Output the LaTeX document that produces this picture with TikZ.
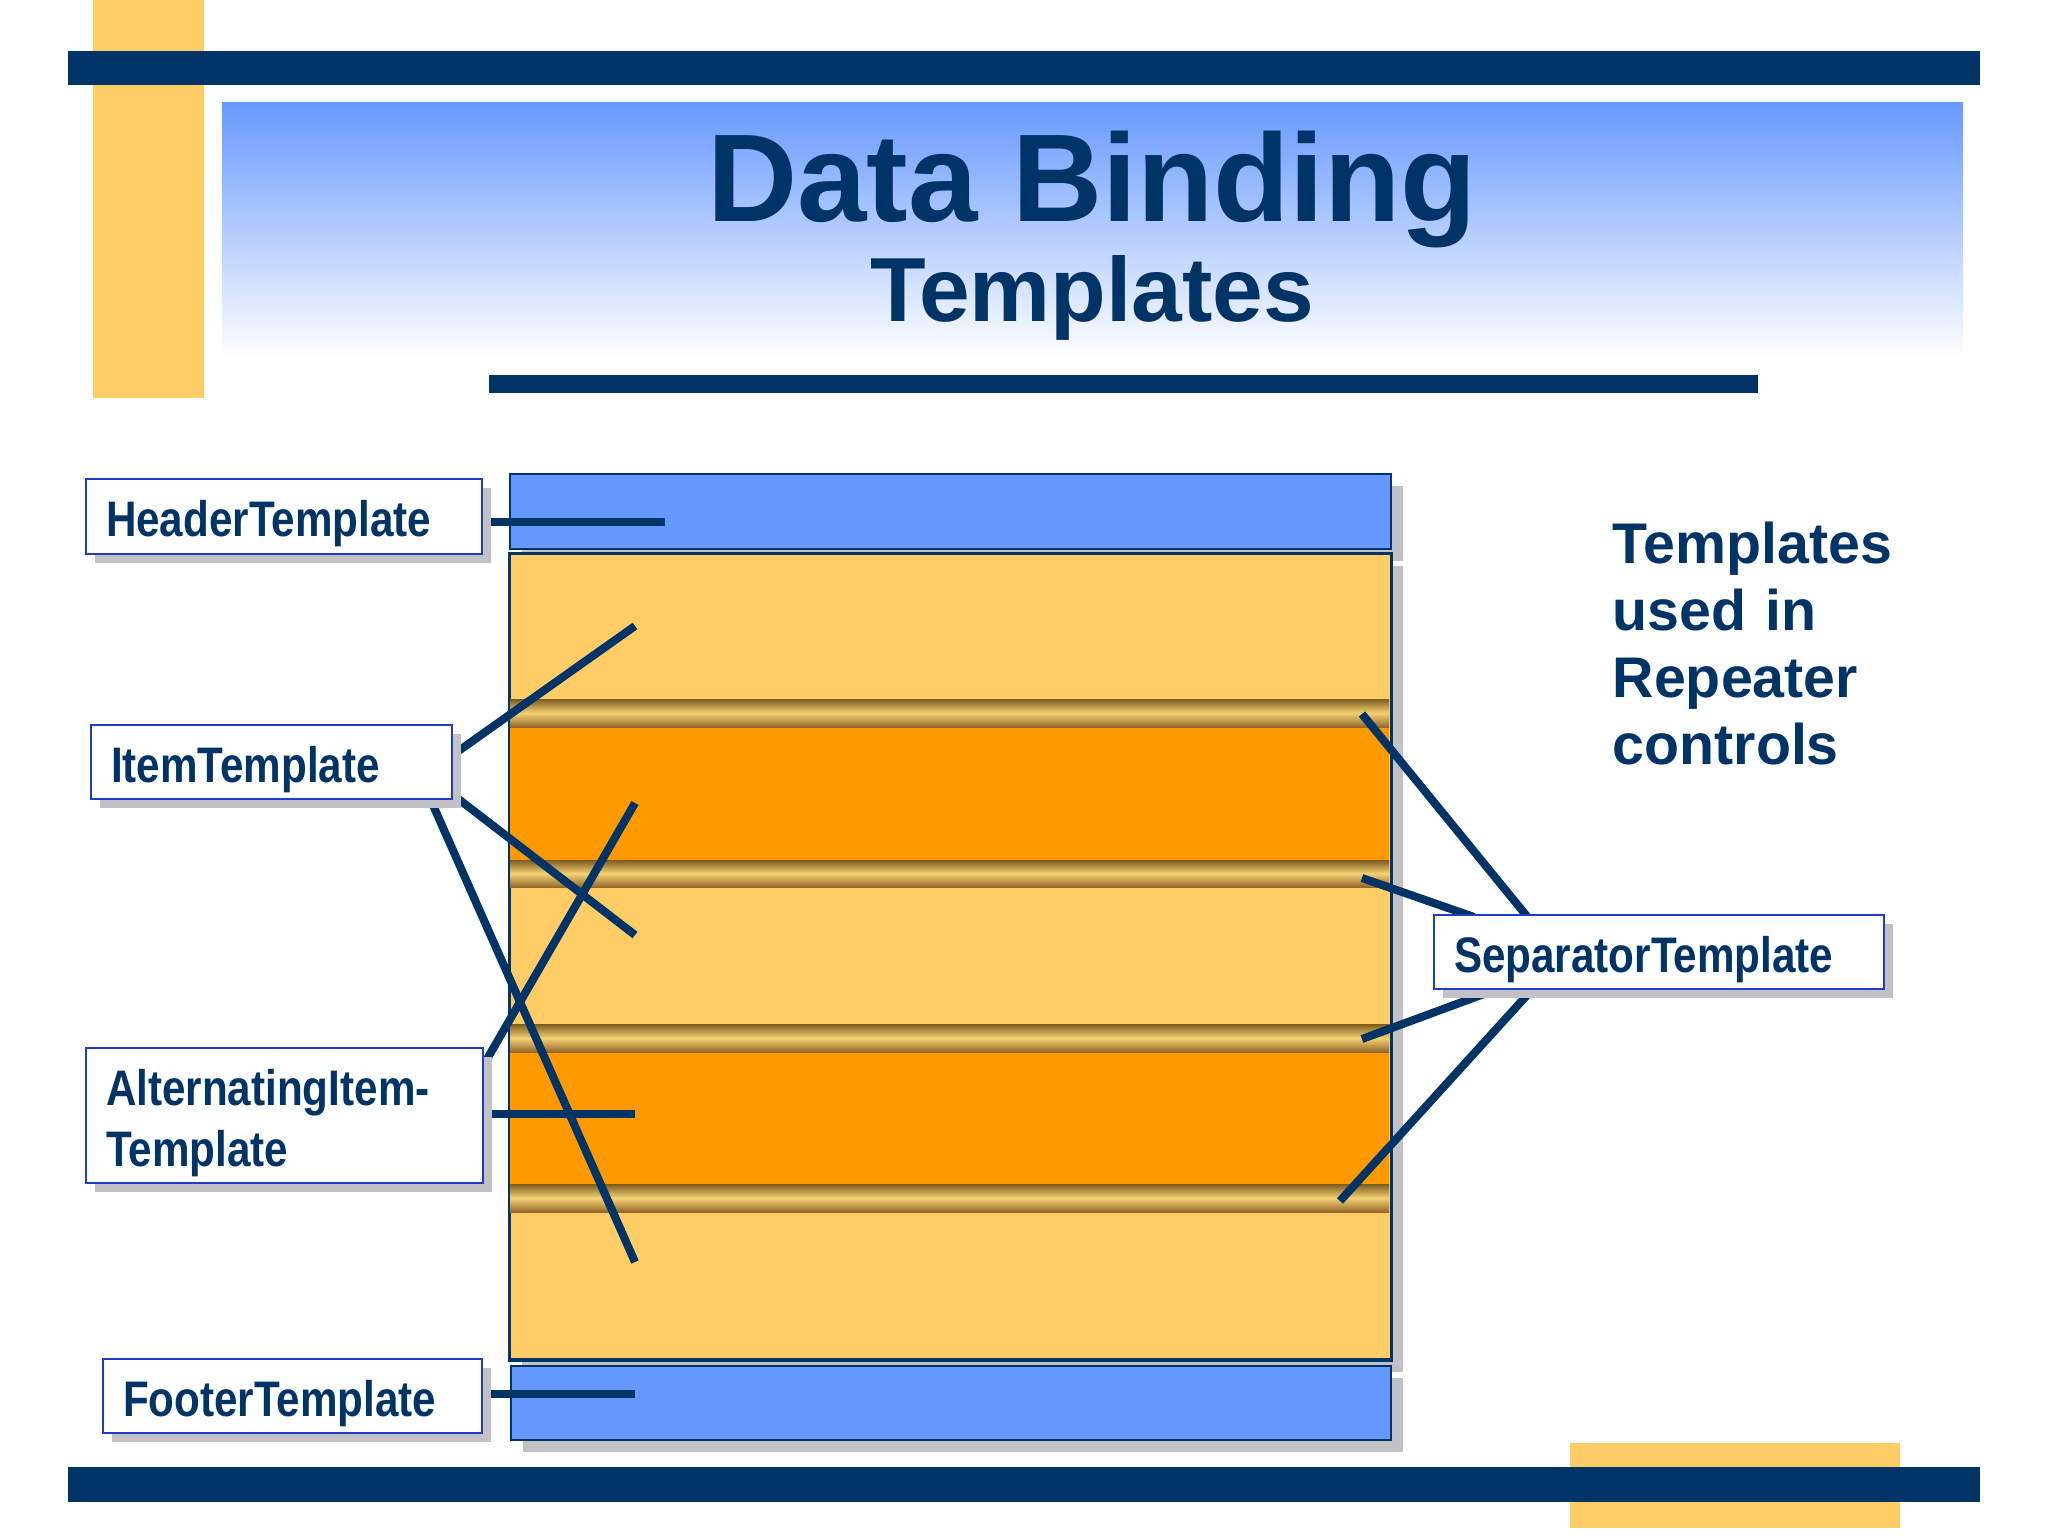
\documentclass[tikz,border=0pt]{standalone}
\usepackage{fontspec}
\setmainfont{Liberation Sans}
\newfontfamily\narrowfont{Liberation Sans}[FakeStretch=0.845]
\usetikzlibrary{shadows,calc}
\definecolor{navy}{HTML}{003366}
\definecolor{orangeL}{HTML}{FFCC66}
\definecolor{orangeD}{HTML}{FF9900}
\definecolor{blueM}{HTML}{6699FF}
\definecolor{shadowgray}{HTML}{C2C2C6}
\definecolor{lblblue}{HTML}{1E3CC8}
\definecolor{sepA}{HTML}{7E5C1E}
\definecolor{sepB}{HTML}{F4D274}
\definecolor{sepC}{HTML}{94682A}
\pgfdeclarelayer{back}
\pgfdeclarelayer{mid}
\pgfsetlayers{back,mid,main}
\begin{document}
\begin{tikzpicture}[x=0.01cm,y=-0.01cm,
  lbl/.style={draw=lblblue, line width=0.6pt, fill=white,
    general shadow={fill=shadowgray, shadow xshift=0.09cm, shadow yshift=-0.09cm},
    inner xsep=0.2cm, inner ysep=0pt, anchor=north west, align=left, text=navy,
    font=\narrowfont\bfseries\fontsize{14.2pt}{17.35pt}\selectfont,
    text height=0.4cm, text depth=0cm},
  stackbox/.style={draw=navy, line width=0.6pt, anchor=north west, inner sep=0pt,
    general shadow={fill=shadowgray, shadow xshift=0.12cm, shadow yshift=-0.12cm}},
  conn/.style={draw=navy, line width=2.3pt},
  sepband/.style={top color=sepA, bottom color=sepC, middle color=sepB},
  titletext/.style={anchor=base, text=navy, inner sep=0pt}
]
\useasboundingbox (0,0) rectangle (2048,1536);
\begin{pgfonlayer}{back}
  \fill[white] (0,0) rectangle (2048,1536);
  % decorative bars
  \fill[orangeL] (93,0) rectangle (204,398);
  \fill[navy] (68,51) rectangle (1980,85);
  \shade[top color=blueM, bottom color=white] (222,102) rectangle (1963,357);
  \fill[navy] (489,375) rectangle (1758,393);
  \fill[orangeL] (1570,1443) rectangle (1900,1528);
  \fill[navy] (68,1467) rectangle (1980,1502);
  % repeater stack
  \node[stackbox, fill=blueM, minimum width=8.8cm, minimum height=0.75cm] (HB) at (509,473) {};
  \node[stackbox, fill=orangeL, minimum width=8.8cm, minimum height=8.05cm] (IB) at (509,553) {};
  \fill[orangeD] (509,727) rectangle (1389,860);
  \fill[orangeD] (509,1052) rectangle (1389,1184);
  \shade[sepband] (509,699) rectangle (1389,727);
  \shade[sepband] (509,860) rectangle (1389,887);
  \shade[sepband] (509,1024) rectangle (1389,1052);
  \shade[sepband] (509,1184) rectangle (1389,1212);
  \draw[navy, line width=0.6pt] (IB.north west) rectangle (IB.south east);
  \node[stackbox, fill=blueM, minimum width=8.79cm, minimum height=0.74cm] (FB) at (510,1365) {};
\end{pgfonlayer}

% titles
\node[titletext, font=\bfseries\fontsize{35.5pt}{40pt}\selectfont] (T1) at (1092,221) {Data Binding};
\node[titletext, font=\bfseries\fontsize{25.9pt}{30pt}\selectfont] (T2) at (1092,321) {Templates};
\node[anchor=base west, inner sep=0pt, text width=5cm, align=left, text=navy,
  font=\bfseries\fontsize{16.3pt}{19.06pt}\selectfont] (RT) at (1612,563)
  {Templates\\used in\\Repeater\\controls};

% labels
\node[lbl, minimum width=3.96cm, minimum height=0.75cm, text width=3.56cm] (HT) at (85,478) {HeaderTemplate};
\node[lbl, minimum width=3.61cm, minimum height=0.74cm, text width=3.21cm] (IT) at (90,724) {ItemTemplate};
\node[lbl, minimum width=3.97cm, minimum height=1.35cm, text width=3.57cm, text depth=0.61cm] (AIT) at (85,1047) {AlternatingItem-\\Template};
\node[lbl, minimum width=3.79cm, minimum height=0.74cm, text width=3.39cm] (FT) at (102,1358) {FooterTemplate};
\node[lbl, minimum width=4.50cm, minimum height=0.74cm, text width=4.10cm] (ST) at (1433,914) {SeparatorTemplate};

% connector end points inside the stack
\coordinate (hE) at (665,522);
\coordinate (i1E) at (635,626);
\coordinate (i2E) at (635,935);
\coordinate (i3E) at (635,1262);
\coordinate (a1E) at (635,803);
\coordinate (a2E) at (635,1114);
\coordinate (fE) at (635,1394);
\coordinate (s1E) at (1362,714);
\coordinate (s2E) at (1362,878);
\coordinate (s3E) at (1362,1039);
\coordinate (s4E) at (1340,1201);

\begin{pgfonlayer}{mid}
  \draw[conn] (HT.east |- hE) -- (hE);
  \draw[conn] ($(IT.east)+(0,-7.5)$) -- (i1E);
  \draw[conn] ($(IT.east)+(0,33)$) -- (i2E);
  \draw[conn] ($(IT.south east)+(-22.5,0)$) -- (i3E);
  \draw[conn] ($(AIT.north east)+(1,15)$) -- (a1E);
  \draw[conn] (AIT.east |- a2E) -- (a2E);
  \draw[conn] (FT.east |- fE) -- (fE);
  \draw[conn] ($(ST.north west)+(97,6)$) -- (s1E);
  \draw[conn] ($(ST.north west)+(41,3)$) -- (s2E);
  \draw[conn] ($(ST.south west)+(72,-4)$) -- (s3E);
  \draw[conn] ($(ST.south west)+(104,-6)$) -- (s4E);
\end{pgfonlayer}
\end{tikzpicture}
\end{document}
